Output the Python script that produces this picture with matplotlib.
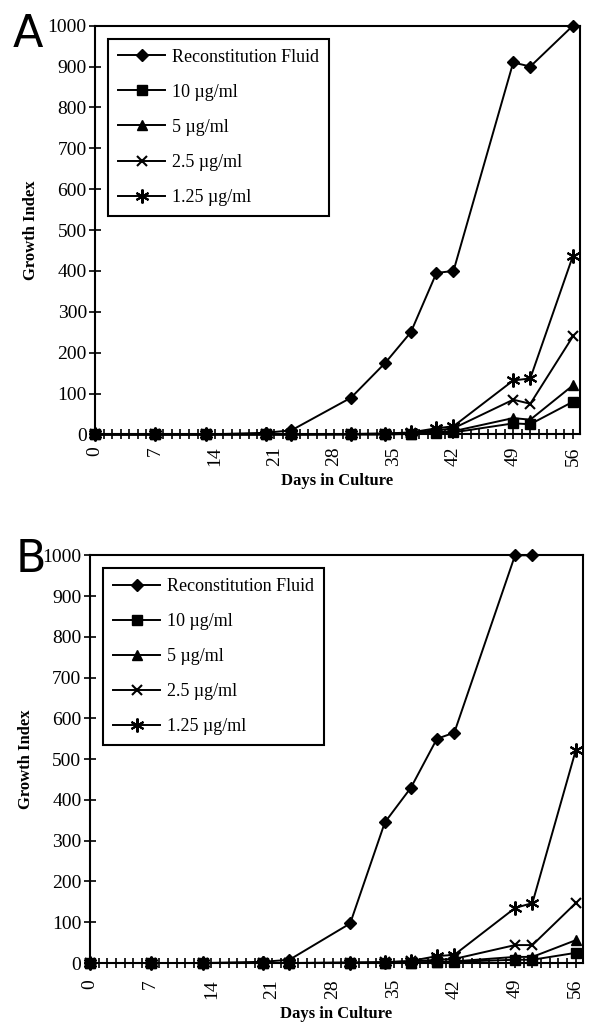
import matplotlib
matplotlib.use("Agg")
import matplotlib.pyplot as plt
from matplotlib.ticker import MultipleLocator

plt.rcParams["font.family"] = ["Liberation Serif", "DejaVu Serif"]

# sampling days (same for every series)
days = [0, 7, 13, 20, 23, 30, 34, 37, 40, 42, 49, 51, 56]

series_labels = ["Reconstitution Fluid", "10 \u00b5g/ml", "5 \u00b5g/ml",
                 "2.5 \u00b5g/ml", "1.25 \u00b5g/ml"]

# panel A
recon_a = [0, 0, 0, 4, 10, 90, 175, 250, 395, 400, 910, 900, 1000]
c10_a = [0, 0, 0, 0, 0, 0, 0, 1, 3, 5, 27, 25, 80]
c5_a = [0, 0, 0, 0, 0, 0, 0, 2, 6, 8, 40, 36, 120]
c25_a = [0, 0, 0, 0, 0, 1, 2, 4, 10, 15, 85, 75, 240]
c125_a = [0, 0, 0, 0, 0, 1, 2, 5, 15, 20, 132, 137, 437]

# panel B (reconstitution fluid goes off scale after day 51)
recon_b = [0, 0, 0, 3, 8, 97, 345, 430, 550, 565, 1000, 1000]
c10_b = [0, 0, 0, 0, 0, 0, 0, 1, 2, 3, 8, 8, 25]
c5_b = [0, 0, 0, 0, 0, 0, 0, 1, 3, 4, 15, 15, 56]
c25_b = [0, 0, 0, 0, 0, 1, 2, 4, 8, 10, 44, 44, 147]
c125_b = [0, 0, 0, 0, 0, 1, 2, 5, 17, 20, 135, 147, 522]

markers = [
    dict(marker="D", markersize=6.5),
    dict(marker="s", markersize=6.5),
    dict(marker="^", markersize=7.5),
    dict(marker="x", markersize=7.5, markeredgewidth=1.5),
    dict(marker=(6, 2, 0), markersize=10, markeredgewidth=1.5),
]

fig = plt.figure(figsize=(5.91, 10.27), dpi=100)


def draw_panel(rect, data, letter, letter_xy, xpad, xlabelpad):
    ax = fig.add_axes(rect)
    for vals, lab, mk in zip(data, series_labels, markers):
        ax.plot(days[:len(vals)], vals, color="black", lw=1.4,
                markerfacecolor="black", markeredgecolor="black",
                label=lab, clip_on=False, zorder=3, **mk)
    ax.set_xlim(0, 56.8)
    ax.set_ylim(0, 1000)
    ax.xaxis.set_major_locator(MultipleLocator(7))
    ax.xaxis.set_minor_locator(MultipleLocator(1))
    ax.yaxis.set_major_locator(MultipleLocator(100))
    ax.tick_params(axis="both", which="both", direction="inout", width=1.2,
                   labelsize=14, colors="black")
    ax.tick_params(axis="x", which="major", length=7, labelrotation=90, pad=xpad)
    ax.tick_params(axis="x", which="minor", length=7)
    ax.tick_params(axis="y", which="major", length=8, pad=2)
    for sp in ax.spines.values():
        sp.set_linewidth(1.5)
    ax.set_xlabel("Days in Culture", fontsize=12, fontweight="bold",
                  labelpad=xlabelpad)
    ax.set_ylabel("Growth Index", fontsize=12, fontweight="bold", labelpad=6)
    leg = ax.legend(loc="upper left", bbox_to_anchor=(0.027, 0.968),
                    borderaxespad=0, fancybox=False, edgecolor="black",
                    fontsize=13, handlelength=2.6, handletextpad=0.4,
                    labelspacing=1.0, borderpad=0.55, framealpha=1)
    leg.get_frame().set_linewidth(1.5)
    fig.text(letter_xy[0], letter_xy[1], letter, fontsize=32,
             family=["DejaVu Sans"], ha="left", va="top")
    return ax


draw_panel([0.161, 0.577, 0.820, 0.398],
           [recon_a, c10_a, c5_a, c25_a, c125_a], "A", (0.022, 0.987), 5, 5)
draw_panel([0.152, 0.0623, 0.834, 0.397],
           [recon_b, c10_b, c5_b, c25_b, c125_b], "B", (0.026, 0.476), 8, 5)

fig.savefig("out.png", dpi=100)
